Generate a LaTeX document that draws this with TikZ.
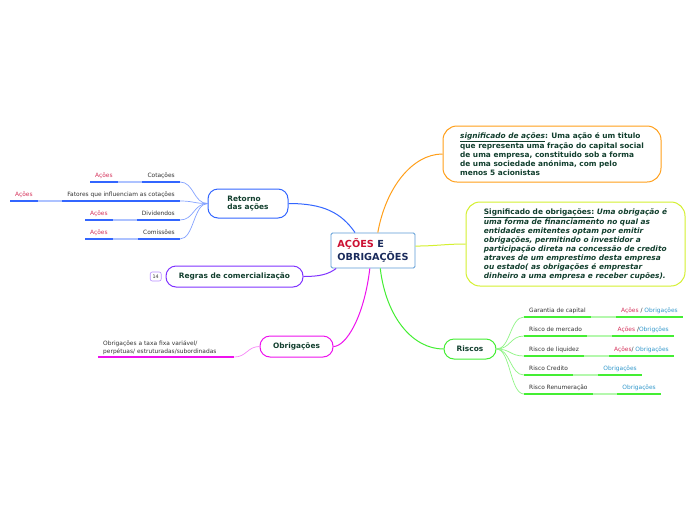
\documentclass[tikz,border=0pt]{standalone}
\usepackage{fontspec}
\setmainfont{DejaVu Sans}
\usepackage{xcolor}
\usepackage{tikz}
\usetikzlibrary{positioning, calc}

\definecolor{mainblue}{HTML}{5B9BD5}
\definecolor{acred}{HTML}{CC1133}
\definecolor{navy}{HTML}{1A2B5C}
\definecolor{dkgreen}{HTML}{123F2E}
\definecolor{retblue}{HTML}{3366FF}
\definecolor{regpurple}{HTML}{8033FF}
\definecolor{obmag}{HTML}{EE11EE}
\definecolor{risgreen}{HTML}{44EE33}
\definecolor{sigorange}{HTML}{FF9F1A}
\definecolor{siglime}{HTML}{D4F030}
\definecolor{acpink}{HTML}{D6335C}
\definecolor{obblue}{HTML}{3399CC}
\definecolor{leafgray}{HTML}{333333}

\begin{document}
\begin{tikzpicture}[x=1pt, y=-1pt,
  topic/.style={draw, rounded corners=10pt, line width=1pt, fill=white, text=dkgreen, font=\fontsize{7.4}{8.9}\selectfont\bfseries, align=left},
  leafbox/.style={inner xsep=5pt, inner ysep=2.5pt, font=\fontsize{5.9}{7.8}\selectfont, text=leafgray},
  leaf/.style={leafbox, text height=4.4pt, text depth=1.5pt},
  uline/.style={line width=1.8pt},
  link/.style={line width=0.7pt}]
\fill[white] (0,0) rectangle (696,520);
\useasboundingbox (0,0) rectangle (696,520);

% Central topic
\node[draw=mainblue, line width=0.9pt, rounded corners=1.5pt, fill=white, minimum width=84pt, minimum height=35pt, align=left, text=navy, font=\fontsize{9.7}{12.8}\selectfont\bfseries] (main) at (373,250.5) {\textcolor{acred}{AÇÕES} E\\OBRIGAÇÕES};

% Main branches
\node[topic, draw=retblue, minimum width=80pt, minimum height=29pt] (ret) at (248,203.5) {Retorno\\das ações};
\node[topic, draw=regpurple, minimum width=137pt, minimum height=21pt] (reg) at (234.5,276.5) {Regras de comercialização};
\node[draw=regpurple!55, rounded corners=2pt, line width=0.6pt, minimum width=11pt, minimum height=9pt, inner sep=0.5pt, font=\fontsize{4.8}{5}\selectfont, text=leafgray, left=4pt of reg] (cnt) {14};
\node[topic, draw=obmag, minimum width=73pt, minimum height=21pt] (obr) at (296.5,346.5) {Obrigações};
\node[topic, draw=risgreen, minimum width=52pt, minimum height=20pt] (ris) at (470,349) {Riscos};

% Definitions
\node[topic, draw=sigorange, rounded corners=14pt, minimum width=218pt, minimum height=56pt] (siga) at (552,154) {\textit{\underline{significado de ações}}: Uma ação é um titulo\\que representa uma fração do capital social\\de uma empresa, constituido sob a forma\\de uma sociedade anónima, com pelo\\menos 5 acionistas};
\node[topic, draw=siglime, rounded corners=14pt, minimum width=219pt, minimum height=84pt] (sigo) at (575.5,244) {\underline{Significado de obrigações:} \textit{Uma obrigação é}\\\textit{uma forma de financiamento no qual as}\\\textit{entidades emitentes optam por emitir}\\\textit{obrigações, permitindo o investidor a}\\\textit{participação direta na concessão de credito}\\\textit{atraves de um emprestimo desta empresa}\\\textit{ou estado( as obrigações é emprestar}\\\textit{dinheiro a uma empresa e receber cupões).}};

% Branch connectors
\draw[link, line width=1pt, retblue] (main.135) .. controls +(-14,-20) and +(35,0) .. (ret.east);
\draw[link, line width=1pt, regpurple] (main.206) .. controls +(-8,6) and +(16,0) .. (reg.east);
\draw[link, line width=1pt, obmag] (main.260) .. controls +(-6,50) and +(12,0) .. (obr.east);
\draw[link, line width=1pt, risgreen] (main.292) .. controls +(6,50) and +(-30,0) .. (ris.west);
\draw[link, line width=1pt, sigorange] (main.75) .. controls +(8,-45) and +(-30,0) .. (siga.west);
\draw[link, line width=1pt, siglime] (main.6) .. controls +(20,0) and +(-20,0) .. (sigo.west);

% Retorno das ações
\foreach \i/\y/\cx/\txt in {1/182/90/Cotações, 2/201/10/{Fatores que influenciam as cotações}, 3/220/85/Dividendos, 4/239/85/Comissões} {
  \node[leaf, anchor=south east] (rl\i) at (180,\y) {\txt};
  \node[leaf, anchor=south west, text=acpink] (rc\i) at (\cx,\y) {Ações};
  \draw[uline, retblue] (rl\i.south west) -- (rl\i.south east);
  \draw[uline, retblue] (rc\i.south west) -- (rc\i.south east);
  \draw[uline, line width=1.3pt, retblue!40] (rc\i.south east) -- (rl\i.south west);
  \draw[link, retblue!60] (ret.west) .. controls +(-14,0) and +(14,0) .. (rl\i.south east);
}

% Riscos
\foreach \i/\y/\rx/\txt/\lab in {1/317/683/Garantia de capital/{\textcolor{acpink}{Ações} / \textcolor{obblue}{Obrigações}}, 2/336/674/Risco de mercado/{\textcolor{acpink}{Ações} /\textcolor{obblue}{Obrigções}}, 3/356/674/Risco de liquidez/{\textcolor{acpink}{Ações}/ \textcolor{obblue}{Obrigações}}, 4/375/642/Risco Credito/{\textcolor{obblue}{Obrigações}}, 5/394/661/Risco Renumeração/{\textcolor{obblue}{Obrigações}}} {
  \node[leaf, anchor=south west] (kl\i) at (524,\y) {\txt};
  \node[leaf, anchor=south east] (kc\i) at (\rx,\y) {\lab};
  \draw[uline, risgreen] (kl\i.south west) -- (kl\i.south east);
  \draw[uline, risgreen] (kc\i.south west) -- (kc\i.south east);
  \draw[uline, line width=1.3pt, risgreen!40] (kl\i.south east) -- (kc\i.south west);
  \draw[link, risgreen!60] (ris.east) .. controls +(14,0) and +(-14,0) .. (kl\i.south west);
}

% Obrigações
\node[leafbox, anchor=south west, text width=126pt, align=left] (ol) at (98,357) {Obrigações a taxa fixa variável/\\perpétuas/ estruturadas/subordinadas};
\draw[uline, obmag] (ol.south west) -- (ol.south east);
\draw[link, obmag!50] (obr.west) .. controls +(-12,0) and +(12,0) .. (ol.south east);
\end{tikzpicture}
\end{document}
